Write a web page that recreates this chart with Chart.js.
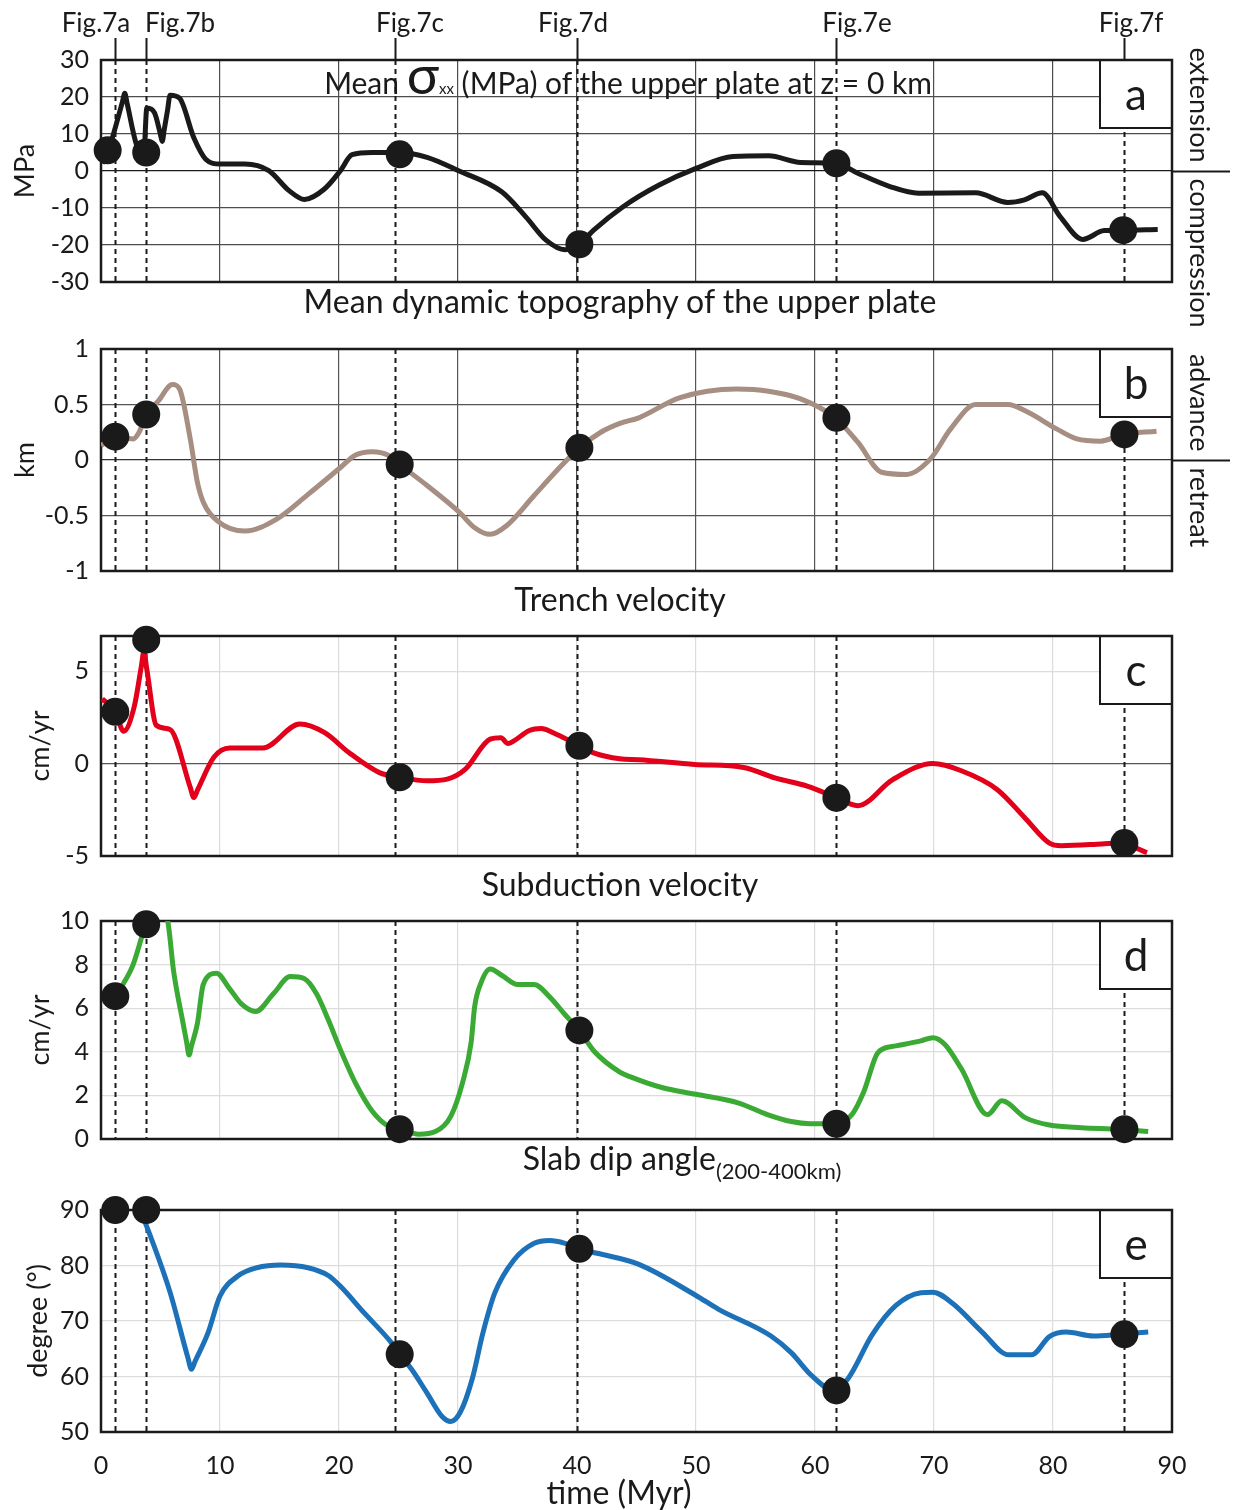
<!DOCTYPE html>
<html>
<head>
<meta charset="utf-8">
<script src="https://cdn.jsdelivr.net/npm/chart.js@4.4.1/dist/chart.umd.min.js"></script>
<style>
  body { margin: 0; background: #fff; }
  #page { position: relative; width: 1235px; height: 1510px; overflow: hidden; font-family: Lato, sans-serif; color: #1a1a1a; }
  canvas { position: absolute; left: 0; }
  .t { position: absolute; white-space: nowrap; line-height: 1; transform: translate(-50%, -50%); z-index: 5; }
  .fig { font-size: 26px; top: 22px; }
  .ptitle { font-size: 32px; left: 620px; }
  sub { font-size: 22px; vertical-align: -9px; }
</style>
</head>
<body>
<div id="page">
  <canvas id="chartA" width="1235" height="340" style="top:0px"></canvas>
  <canvas id="chartB" width="1235" height="290" style="top:300px"></canvas>
  <canvas id="chartC" width="1235" height="250" style="top:620px"></canvas>
  <canvas id="chartD" width="1235" height="283" style="top:870px"></canvas>
  <canvas id="chartE" width="1235" height="357" style="top:1153px"></canvas>

  <div class="t fig" style="left:96px">Fig.7a</div>
  <div class="t fig" style="left:180px">Fig.7b</div>
  <div class="t fig" style="left:410px">Fig.7c</div>
  <div class="t fig" style="left:573px">Fig.7d</div>
  <div class="t fig" style="left:857px">Fig.7e</div>
  <div class="t fig" style="left:1131px">Fig.7f</div>

  <div class="t" style="left:628px; top:82px; font-size:30px">Mean <span style="font-size:54px; line-height:0">σ</span><span style="font-size:15px">xx</span> (MPa) of the upper plate at z = 0 km</div>
  <div class="t ptitle" style="top:301px">Mean dynamic topography of the upper plate</div>
  <div class="t ptitle" style="top:599px">Trench velocity</div>
  <div class="t ptitle" style="top:884px">Subduction velocity</div>
  <div class="t ptitle" style="left:682px; top:1162px">Slab dip angle<sub>(200-400km)</sub></div>
  <div class="t ptitle" style="left:619px; top:1492px">time (Myr)</div>
</div>

<script>
// time of the Fig.7 snapshots (dashed lines)
const figTimes = [1.2, 3.8, 24.7, 40.0, 61.8, 86.0];
const xTicks = [0, 10, 20, 30, 40, 50, 60, 70, 80, 90];

// a: mean sigma_xx (MPa)
const timeA = [0.1, 0.6, 1.0, 1.8, 2.0, 2.2, 3.0, 3.6, 3.85, 4.5, 5.0, 5.15, 5.3, 5.6, 5.8, 6.6, 7.8, 8.8, 10, 12.1, 14.1, 15.8, 17.1, 18.8, 20.1, 21.1, 22.8, 25.1, 27.4, 30.1, 33.7, 35.7, 37.4, 39, 40.2, 41.4, 43.9, 46.9, 50, 53.1, 56.1, 58.8, 61.8, 63.6, 66.3, 68.7, 73.5, 76.2, 77.6, 79.1, 80.6, 82.5, 84.3, 85.8, 88.8];
const stressA = [2, 5.6, 9.5, 18.7, 21, 18.2, 7, 5, 17, 15.7, 9.8, 8, 10.9, 16.6, 20.5, 19.7, 9, 3.2, 1.9, 1.9, 0.1, -5.3, -7.7, -4.8, 0, 4.4, 5, 5, 3.7, 0, -5.7, -12.4, -18.7, -21.3, -19.8, -16, -9.6, -3.8, 0.7, 3.9, 4.1, 2.3, 2.1, -0.6, -4.2, -6.0, -5.9, -8.5, -7.8, -5.9, -12.3, -18.5, -16.1, -16, -15.8];
const dotTimeA = [0.56, 3.8, 25.1, 40.2, 61.8, 85.9];
const dotStressA = [5.6, 5.0, 4.5, -19.8, 2.1, -16];
const yTicksA = [-30, -20, -10, 0, 10, 20, 30];

// b: mean dynamic topography (km)
const timeB = [0, 1.2, 2.7, 3.2, 3.8, 4.8, 6.0, 6.6, 7.5, 8.1, 8.6, 9.8, 12.1, 14.8, 17.4, 20.1, 21.4, 22.8, 24.1, 25.1, 27.4, 30.1, 31.4, 32.7, 34.1, 36.4, 38.7, 40.2, 42, 43.6, 45.2, 48.6, 53.4, 56.1, 58.8, 61.7, 63.6, 65.6, 67.7, 69.7, 71.4, 73.5, 76.2, 77.9, 80.3, 82, 84, 85.8, 88.7];
const topoB = [0.13, 0.21, 0.19, 0.25, 0.41, 0.53, 0.68, 0.64, 0.19, -0.2, -0.38, -0.55, -0.64, -0.53, -0.31, -0.07, 0.045, 0.075, 0.045, -0.04, -0.23, -0.47, -0.61, -0.67, -0.59, -0.32, -0.05, 0.11, 0.25, 0.33, 0.38, 0.56, 0.64, 0.62, 0.55, 0.38, 0.16, -0.11, -0.13, 0.01, 0.28, 0.5, 0.5, 0.43, 0.28, 0.19, 0.17, 0.23, 0.26];
const dotTimeB = [1.2, 3.8, 25.1, 40.2, 61.8, 86.0];
const dotTopoB = [0.21, 0.41, -0.04, 0.11, 0.38, 0.23];
const yTicksB = [-1, -0.5, 0, 0.5, 1];

// c: trench velocity (cm/yr)
const timeC = [0.1, 1.2, 1.9, 2.8, 3.4, 3.6, 3.85, 4.65, 5.8, 7.5, 7.8, 8.1, 9.5, 10.8, 13.6, 16.7, 18.8, 20.8, 23.4, 25.1, 27.4, 29.1, 30.6, 32.7, 33.6, 34.2, 34.7, 36.0, 37.0, 38.0, 40.2, 41.4, 43.6, 45.2, 49.9, 54, 56.7, 59.4, 61.6, 63.6, 66.5, 69.9, 72.3, 75.3, 77.7, 79.7, 80.7, 84.1, 85.6, 87.9];
const trenchC = [3.5, 2.8, 1.75, 3.1, 5.3, 6.05, 5.1, 2.07, 1.84, -1.29, -1.84, -1.45, 0.35, 0.84, 0.84, 2.14, 1.67, 0.61, -0.49, -0.74, -0.93, -0.84, -0.32, 1.32, 1.4, 1.09, 1.23, 1.79, 1.89, 1.67, 0.96, 0.58, 0.26, 0.21, -0.05, -0.21, -0.79, -1.23, -1.79, -2.28, -0.88, 0, -0.39, -1.4, -2.98, -4.3, -4.44, -4.35, -4.3, -4.82];
const dotTimeC = [1.2, 3.8, 25.1, 40.2, 61.8, 86.0];
const dotTrenchC = [2.8, 6.7, -0.74, 0.96, -1.85, -4.3];
const yTicksC = [-5, 0, 5];

// d: subduction velocity (cm/yr)
const timeD = [1.2, 1.8, 2.7, 3.5, 3.8, 4.6, 5.6, 6.1, 6.9, 7.2, 7.4, 7.6, 8.1, 8.6, 9.7, 10.8, 11.8, 13.0, 14.5, 15.9, 17.1, 18.1, 19.1, 20.1, 21.4, 22.8, 24.1, 25.1, 26.7, 28.1, 29.4, 30.4, 31.1, 31.4, 31.9, 32.7, 33.7, 35.0, 36.4, 37.7, 39.0, 40.2, 41.4, 43.6, 44.5, 47.2, 50, 53.6, 56, 58, 59.6, 61.6, 63.1, 64.1, 65.3, 66.8, 68.9, 69.9, 70.9, 72.3, 74.5, 75.7, 77.7, 79.7, 82.4, 85.6, 88.0];
const subD = [6.55, 7.05, 8.0, 9.4, 9.9, 10.7, 10.0, 7.7, 5.3, 4.43, 3.85, 4.26, 5.3, 7.1, 7.6, 6.9, 6.2, 5.85, 6.67, 7.45, 7.35, 6.67, 5.47, 4.12, 2.55, 1.27, 0.6, 0.45, 0.22, 0.34, 1.05, 2.62, 4.42, 6.07, 7.12, 7.8, 7.5, 7.09, 7.09, 6.52, 5.7, 4.98, 4.05, 3.07, 2.85, 2.35, 2.05, 1.65, 1.12, 0.8, 0.7, 0.7, 1.12, 2.17, 3.97, 4.27, 4.5, 4.65, 4.35, 3.22, 1.12, 1.75, 0.97, 0.64, 0.52, 0.45, 0.34];
const dotTimeD = [1.2, 3.8, 25.1, 40.2, 61.8, 86.0];
const dotSubD = [6.55, 9.85, 0.45, 4.98, 0.7, 0.45];
const yTicksD = [0, 2, 4, 6, 8, 10];

// e: slab dip angle (degree)
const timeE = [3.3, 4.15, 5.8, 7.3, 7.6, 7.9, 9.0, 10.0, 11.5, 13.1, 15.1, 17.4, 19.1, 20.1, 22.1, 24.4, 25.1, 26.1, 27.4, 28.7, 29.4, 30.2, 31.2, 32.1, 33.1, 34.7, 36.4, 37.7, 39.0, 40.2, 41.7, 45.2, 50, 51.9, 56.3, 58.0, 59.7, 61.6, 62.8, 64.8, 66.8, 68.9, 69.9, 71.6, 74.0, 76.3, 78.2, 79.7, 81.1, 83.4, 85.6, 88.0];
const dipE = [90, 85.3, 75.2, 63.4, 61.3, 62.7, 67.9, 74.5, 78.1, 79.6, 80.1, 79.6, 78.2, 76.3, 71.5, 66.1, 64.0, 61.3, 57.0, 52.7, 51.9, 53.6, 59.6, 67.9, 75.1, 81.0, 84.0, 84.5, 84.0, 83.0, 82.2, 80.2, 74.6, 72.1, 67.3, 64.3, 60.2, 57.5, 59.7, 67.5, 72.8, 75.1, 75.2, 73.1, 68.1, 63.9, 63.9, 67.2, 68.0, 67.3, 67.6, 68.0];
const dotTimeE = [1.2, 3.8, 25.1, 40.2, 61.8, 86.0];
const dotDipE = [90, 90, 64, 83, 57.5, 67.6];
const yTicksE = [50, 60, 70, 80, 90];

const ink = '#1a1a1a';
const font = 'Lato, sans-serif';

// dashed snapshot lines, letter box and frame, drawn under the curves
const decor = {
  id: 'decor',
  beforeDatasetsDraw(chart, args, o) {
    const { ctx, chartArea: a } = chart;
    const x = chart.scales.x, y = chart.scales.y;
    ctx.save();
    ctx.strokeStyle = ink;
    ctx.lineWidth = 2;
    figTimes.forEach(t => {
      const px = Math.round(x.getPixelForValue(t)) + 0.5;
      ctx.setLineDash([5, 4]);
      ctx.beginPath(); ctx.moveTo(px, a.top); ctx.lineTo(px, a.bottom); ctx.stroke();
      if (o.topTicks) {
        ctx.setLineDash([]);
        ctx.beginPath(); ctx.moveTo(px, a.top - 22); ctx.lineTo(px, a.top); ctx.stroke();
      }
    });
    ctx.setLineDash([]);

    // letter box
    const bw = 72, bh = 68;
    ctx.fillStyle = '#fff';
    ctx.fillRect(a.right - bw, a.top, bw, bh);
    ctx.lineWidth = 2;
    ctx.strokeRect(a.right - bw, a.top, bw, bh);
    ctx.fillStyle = ink;
    ctx.font = '44px ' + font;
    ctx.textAlign = 'center';
    ctx.textBaseline = 'middle';
    ctx.fillText(o.letter, a.right - bw / 2, a.top + bh / 2 + 2);

    // frame
    ctx.lineWidth = 2.5;
    ctx.strokeRect(a.left, a.top, a.width, a.height);

    if (o.side) {
      const y0 = Math.round(y.getPixelForValue(0)) + 0.5;
      ctx.lineWidth = 2;
      ctx.beginPath(); ctx.moveTo(a.right, y0); ctx.lineTo(a.right + 58, y0); ctx.stroke();
      ctx.font = '27px ' + font;
      ctx.translate(a.right + 27, y0);
      ctx.rotate(Math.PI / 2);
      ctx.textBaseline = 'middle';
      ctx.textAlign = 'right';
      ctx.fillText(o.side[0], -9, 0);
      ctx.textAlign = 'left';
      ctx.fillText(o.side[1], 7, 0);
    }
    ctx.restore();
  }
};

function pts(xs, ys) {
  return xs.map((t, i) => ({ x: t, y: ys[i] }));
}

function makePanel(id, p) {
  const gridColor = p.grid;
  new Chart(document.getElementById(id), {
    type: 'line',
    data: {
      datasets: [
        {
          data: pts(p.dotT, p.dotV),
          showLine: false,
          pointRadius: 14,
          pointBackgroundColor: ink,
          pointBorderWidth: 0,
          clip: false
        },
        {
          data: pts(p.t, p.v),
          borderColor: p.color,
          borderWidth: 5,
          pointRadius: 0,
          cubicInterpolationMode: 'monotone',
          fill: false
        }
      ]
    },
    options: {
      responsive: false,
      animation: false,
      events: [],
      layout: { padding: { left: 0, right: 63, top: p.padTop, bottom: p.padBottom } },
      plugins: {
        legend: { display: false },
        tooltip: { enabled: false },
        decor: { letter: p.letter, side: p.side, topTicks: p.topTicks }
      },
      scales: {
        x: {
          type: 'linear',
          min: 0,
          max: 90,
          afterBuildTicks: s => { s.ticks = xTicks.map(v => ({ value: v })); },
          afterFit: s => {
            s.height = p.showX ? 60 : 0;
            s.paddingLeft = 0; s.paddingRight = 0;
          },
          border: { display: false },
          grid: {
            drawTicks: false,
            lineWidth: 1.2,
            color: c => (c.tick.value === 0 || c.tick.value === 90) ? 'rgba(0,0,0,0)' : gridColor
          },
          ticks: {
            display: !!p.showX,
            padding: 19,
            color: ink,
            font: { family: font, size: 25 }
          }
        },
        y: {
          min: p.min,
          max: p.max,
          afterBuildTicks: s => { s.ticks = p.yTicks.map(v => ({ value: v })); },
          afterFit: s => {
            s.width = 101;
            s.paddingTop = 0; s.paddingBottom = 0;
          },
          border: { display: false },
          grid: {
            drawTicks: false,
            lineWidth: 1.2,
            color: c => c.tick.value === 0 ? p.zero : gridColor
          },
          ticks: {
            padding: 12,
            color: ink,
            font: { family: font, size: 25 },
            callback: v => String(v)
          },
          title: {
            display: true,
            text: p.title,
            color: ink,
            font: { family: font, size: 27 },
            padding: { top: p.titleCenter - 16, bottom: 0 }
          }
        }
      }
    },
    plugins: [decor]
  });
}

makePanel('chartA', {
  t: timeA, v: stressA, dotT: dotTimeA, dotV: dotStressA, color: '#1a1a1a',
  min: -30, max: 30, yTicks: yTicksA, title: 'MPa', titleCenter: 25,
  grid: '#4d4d4d', zero: '#1a1a1a', letter: 'a', side: ['extension', 'compression'],
  topTicks: true, padTop: 60, padBottom: 58
});
makePanel('chartB', {
  t: timeB, v: topoB, dotT: dotTimeB, dotV: dotTopoB, color: '#a68f82',
  min: -1, max: 1, yTicks: yTicksB, title: 'km', titleCenter: 25,
  grid: '#555555', zero: '#333333', letter: 'b', side: ['advance', 'retreat'],
  padTop: 49, padBottom: 19
});
makePanel('chartC', {
  t: timeC, v: trenchC, dotT: dotTimeC, dotV: dotTrenchC, color: '#e2001a',
  min: -5, max: 6.9, yTicks: yTicksC, title: 'cm/yr', titleCenter: 40,
  grid: '#dcdcdc', zero: '#555555', letter: 'c',
  padTop: 16, padBottom: 10
});
makePanel('chartD', {
  t: timeD, v: subD, dotT: dotTimeD, dotV: dotSubD, color: '#3aaa35',
  min: 0, max: 10, yTicks: yTicksD, title: 'cm/yr', titleCenter: 40,
  grid: '#dcdcdc', zero: '#dcdcdc', letter: 'd',
  padTop: 51, padBottom: 10
});
makePanel('chartE', {
  t: timeE, v: dipE, dotT: dotTimeE, dotV: dotDipE, color: '#1d71b8',
  min: 50, max: 90, yTicks: yTicksE, title: 'degree (°)', titleCenter: 38,
  grid: '#dcdcdc', zero: '#dcdcdc', letter: 'e', showX: true,
  padTop: 57, padBottom: 18
});
</script>
</body>
</html>
